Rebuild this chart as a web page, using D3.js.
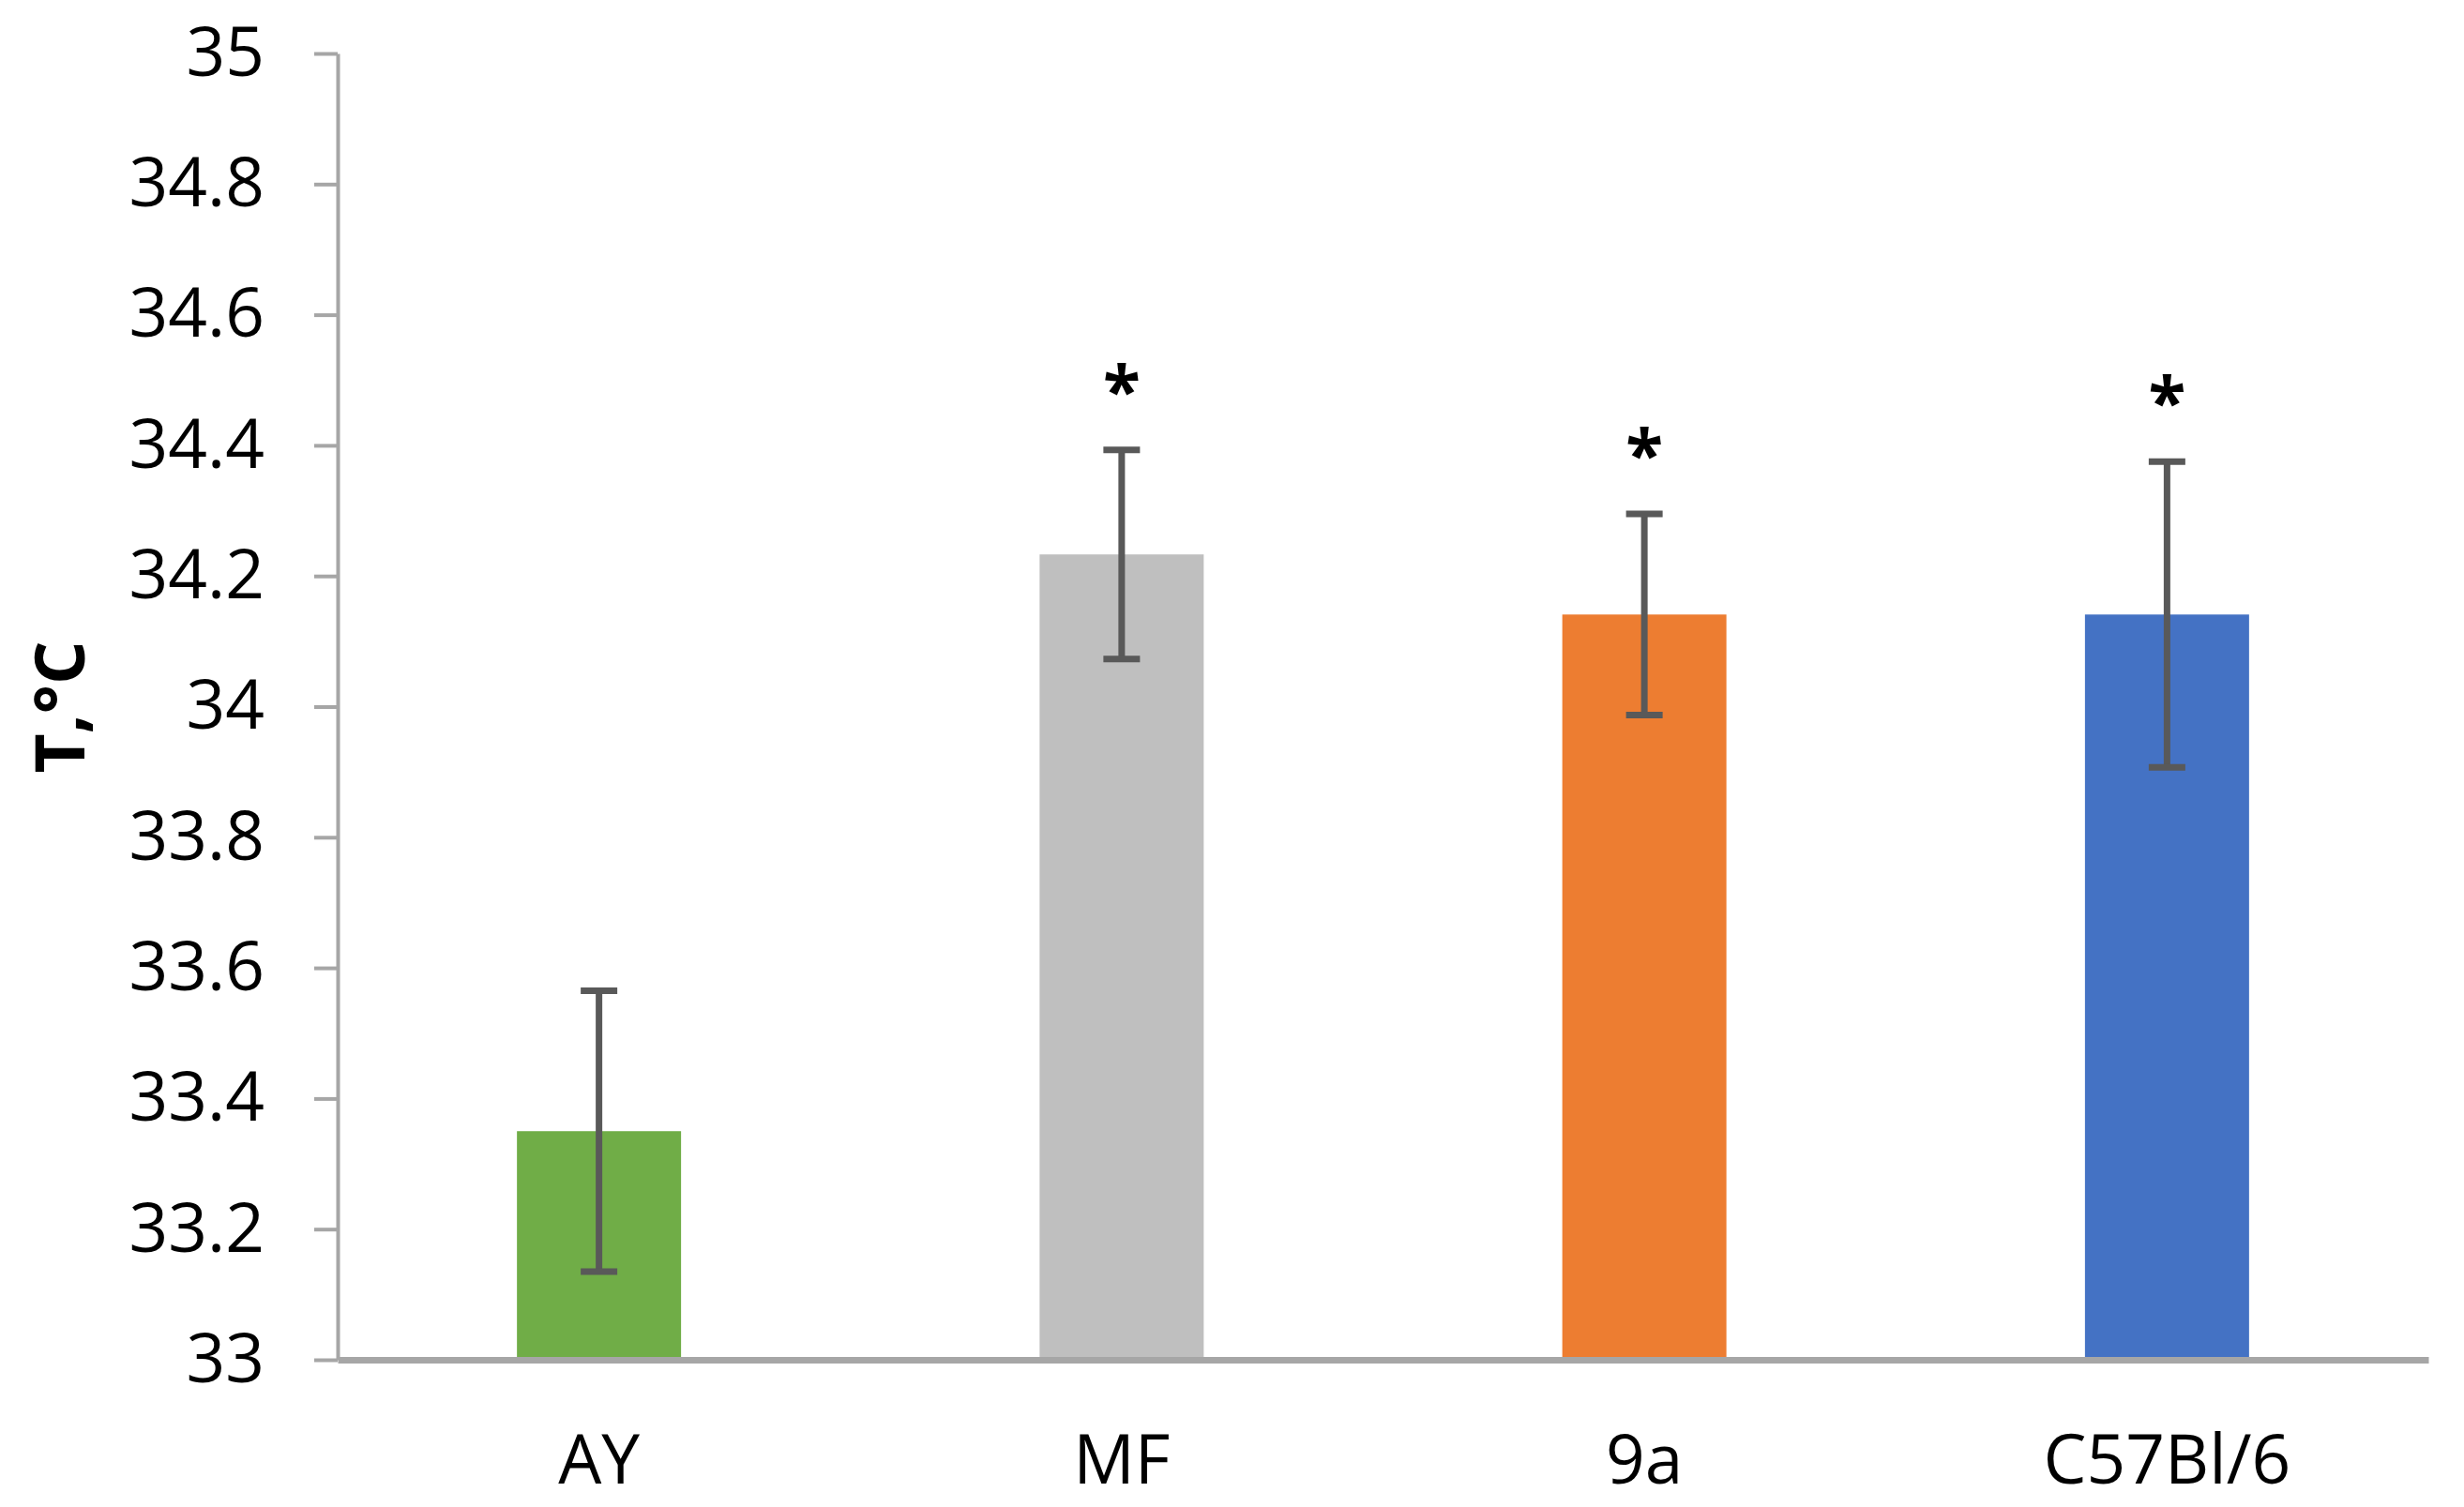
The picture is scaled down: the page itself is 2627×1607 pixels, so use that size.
<!DOCTYPE html>
<html>
<head>
<meta charset="utf-8">
<script src="https://cdn.jsdelivr.net/npm/d3@7"></script>
<style>
  html, body { margin: 0; padding: 0; background: #fff; }
  svg { display: block; }
</style>
</head>
<body>
<svg id="chart" width="2627" height="1607"></svg>
<script>
// ---- data ----
const categories = ["AY", "MF", "9a", "C57Bl/6"];
const means = [33.35, 34.233, 34.141, 34.141];
const errors = [0.215, 0.16, 0.154, 0.234];
const signif = ["", "*", "*", "*"];
const colors = ["#70ad47", "#bfbfbf", "#ed7d31", "#4472c4"];
const yTicks = [33, 33.2, 33.4, 33.6, 33.8, 34, 34.2, 34.4, 34.6, 34.8, 35];
const yTickLabels = ["33", "33.2", "33.4", "33.6", "33.8", "34", "34.2", "34.4", "34.6", "34.8", "35"];
const yTitle = "T,°C";

// ---- layout ----
const svg = d3.select("#chart");
const plotLeft = 360, plotRight = 2589, plotTop = 57, plotBottom = 1450;
const font = "'Open Sans', 'Noto Sans', sans-serif";
const fs = 73;

const x = d3.scaleBand().domain(categories).range([plotLeft, plotRight])
  .paddingInner(0.686).paddingOuter(0.343);
const y = d3.scaleLinear().domain([33, 35]).range([plotBottom, plotTop]);

// bars
svg.append("g").selectAll("rect").data(categories).join("rect")
  .attr("x", d => x(d))
  .attr("width", x.bandwidth())
  .attr("y", (d, i) => y(means[i]))
  .attr("height", (d, i) => y(33) - y(means[i]))
  .attr("fill", (d, i) => colors[i]);

// y axis
const yAxis = d3.axisLeft(y).tickValues(yTicks)
  .tickFormat((d, i) => yTickLabels[i])
  .tickSize(25).tickSizeOuter(0).tickPadding(53);
const gy = svg.append("g").attr("transform", `translate(${plotLeft},0)`).call(yAxis);
gy.select(".domain").attr("stroke", "#a6a6a6").attr("stroke-width", 4);
gy.selectAll(".tick line").attr("stroke", "#a6a6a6").attr("stroke-width", 4);
gy.selectAll(".tick text").attr("font-family", font).attr("font-size", fs)
  .attr("fill", "#000");

// x axis
const xAxis = d3.axisBottom(x).tickSize(0).tickSizeOuter(0).tickPadding(80);
const gx = svg.append("g").attr("transform", `translate(0,${plotBottom})`).call(xAxis);
gx.select(".domain").attr("stroke", "#a6a6a6").attr("stroke-width", 7);
gx.selectAll(".tick text").attr("font-family", font).attr("font-size", fs)
  .attr("fill", "#000");

// error bars
const eb = svg.append("g").attr("stroke", "#595959");
const cx = d => x(d) + x.bandwidth() / 2;
eb.selectAll("line.stem").data(categories).join("line").attr("class", "stem")
  .attr("x1", cx).attr("x2", cx)
  .attr("y1", (d, i) => y(means[i] + errors[i]))
  .attr("y2", (d, i) => y(means[i] - errors[i]))
  .attr("stroke-width", 7);
eb.selectAll("line.capTop").data(categories).join("line").attr("class", "capTop")
  .attr("x1", d => cx(d) - 19.5).attr("x2", d => cx(d) + 19.5)
  .attr("y1", (d, i) => y(means[i] + errors[i]))
  .attr("y2", (d, i) => y(means[i] + errors[i]))
  .attr("stroke-width", 7);
eb.selectAll("line.capBot").data(categories).join("line").attr("class", "capBot")
  .attr("x1", d => cx(d) - 19.5).attr("x2", d => cx(d) + 19.5)
  .attr("y1", (d, i) => y(means[i] - errors[i]))
  .attr("y2", (d, i) => y(means[i] - errors[i]))
  .attr("stroke-width", 7);

// significance stars
svg.append("g").selectAll("text").data(categories).join("text")
  .attr("x", cx)
  .attr("y", (d, i) => y(means[i] + errors[i]) - 37)
  .attr("text-anchor", "middle")
  .attr("font-family", font).attr("font-weight", "bold").attr("font-size", fs)
  .attr("fill", "#000")
  .text((d, i) => signif[i]);

// y title
svg.append("text")
  .attr("transform", "translate(90,754) rotate(-90)")
  .attr("text-anchor", "middle")
  .attr("font-family", font).attr("font-weight", "bold").attr("font-size", fs)
  .attr("fill", "#000")
  .text(yTitle);
</script>
</body>
</html>
